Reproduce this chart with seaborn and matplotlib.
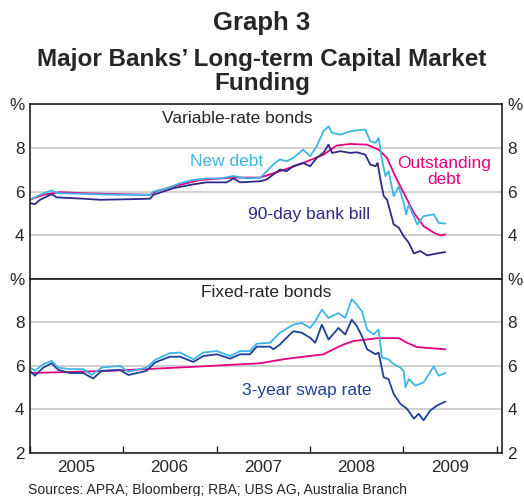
import pandas as pd
import numpy as np
import matplotlib.pyplot as plt
import matplotlib.dates as mdates
import seaborn as sns

# Datos (tasas en %)
# Bonos de tasa variable
vr_new_dates = ['2005-01-01', '2005-02-09', '2005-03-27', '2005-04-21', '2005-07-28', '2005-12-06',
                '2006-04-16', '2006-04-29', '2006-06-21', '2006-08-11', '2006-10-02', '2006-11-23',
                '2007-01-15', '2007-03-08', '2007-04-29', '2007-06-20', '2007-07-16', '2007-08-11',
                '2007-09-06', '2007-10-02', '2007-10-28', '2007-12-06', '2008-01-02', '2008-01-28',
                '2008-02-23', '2008-03-14', '2008-03-28', '2008-04-29', '2008-06-07', '2008-07-03',
                '2008-08-05', '2008-08-24', '2008-09-14', '2008-09-26', '2008-10-09', '2008-10-23',
                '2008-11-04', '2008-11-24', '2008-12-14', '2009-01-02', '2009-01-12', '2009-01-22',
                '2009-02-24', '2009-03-21', '2009-04-30', '2009-05-19', '2009-06-14']
vr_new = [5.62, 5.85, 6.05, 5.92, 5.89, 5.85, 5.85, 6.0, 6.15, 6.38, 6.53, 6.6,
          6.6, 6.71, 6.6, 6.63, 6.93, 7.24, 7.47, 7.39, 7.54, 7.92, 7.62, 8.08,
          8.76, 8.99, 8.69, 8.61, 8.76, 8.81, 8.84, 8.31, 8.23, 8.46, 7.47, 6.7,
          6.93, 5.79, 6.24, 5.48, 4.95, 5.4, 4.49, 4.87, 4.95, 4.56, 4.53]

vr_out_dates = ['2005-01-01', '2005-02-22', '2005-04-28', '2005-07-28', '2005-12-06', '2006-04-16',
                '2006-05-12', '2006-07-16', '2006-10-28', '2007-03-08', '2007-06-20', '2007-09-06',
                '2007-12-06', '2008-02-23', '2008-04-15', '2008-06-07', '2008-08-11', '2008-09-26',
                '2008-10-29', '2008-11-30', '2009-01-02', '2009-02-11', '2009-03-21', '2009-04-30',
                '2009-05-26', '2009-06-14']
vr_out = [5.62, 5.85, 5.97, 5.92, 5.88, 5.85, 6.02, 6.23, 6.53, 6.64, 6.64, 6.93,
          7.31, 7.69, 8.11, 8.18, 8.15, 7.92, 7.54, 6.7, 5.94, 5.02, 4.41, 4.11,
          3.98, 4.03]

bill_dates = ['2005-01-01', '2005-01-20', '2005-02-09', '2005-03-27', '2005-04-15', '2005-07-28',
              '2005-10-02', '2006-02-09', '2006-04-16', '2006-04-29', '2006-07-16', '2006-10-02',
              '2006-11-23', '2007-02-10', '2007-03-08', '2007-04-03', '2007-06-20', '2007-07-16',
              '2007-08-11', '2007-09-06', '2007-10-02', '2007-10-28', '2007-12-06', '2008-01-02',
              '2008-01-28', '2008-02-23', '2008-03-14', '2008-03-28', '2008-04-29', '2008-06-07',
              '2008-07-03', '2008-08-05', '2008-08-24', '2008-09-14', '2008-09-22', '2008-10-03',
              '2008-10-16', '2008-10-29', '2008-11-24', '2008-12-14', '2009-01-02', '2009-01-22',
              '2009-02-11', '2009-03-08', '2009-04-04', '2009-05-13', '2009-06-14']
bill = [5.47, 5.42, 5.62, 5.88, 5.73, 5.67, 5.62, 5.65, 5.67, 5.85, 6.15, 6.33,
        6.42, 6.42, 6.6, 6.42, 6.47, 6.55, 6.78, 7.01, 6.93, 7.16, 7.31, 7.16,
        7.54, 7.77, 8.15, 7.77, 7.85, 7.77, 7.8, 7.69, 7.24, 7.16, 7.31, 6.55,
        5.79, 5.63, 4.49, 4.34, 3.95, 3.65, 3.16, 3.27, 3.07, 3.16, 3.22]

# Bonos de tasa fija
fx_new_dates = ['2005-01-01', '2005-01-20', '2005-02-22', '2005-03-26', '2005-04-21', '2005-06-06',
                '2005-07-28', '2005-08-30', '2005-10-08', '2005-12-19', '2006-01-21', '2006-03-07',
                '2006-04-02', '2006-05-05', '2006-07-02', '2006-08-11', '2006-10-02', '2006-11-10',
                '2007-01-02', '2007-02-23', '2007-04-03', '2007-05-12', '2007-06-07', '2007-07-29',
                '2007-08-11', '2007-09-06', '2007-10-28', '2007-11-30', '2008-01-02', '2008-01-22',
                '2008-02-17', '2008-03-14', '2008-04-22', '2008-05-18', '2008-06-13', '2008-07-03',
                '2008-07-23', '2008-08-12', '2008-09-07', '2008-09-26', '2008-10-09', '2008-11-04',
                '2008-11-24', '2008-12-20', '2009-01-02', '2009-01-09', '2009-01-22', '2009-02-17',
                '2009-03-21', '2009-04-30', '2009-05-19', '2009-06-14']
fx_new = [5.92, 5.77, 6.08, 6.23, 5.92, 5.85, 5.85, 5.58, 5.92, 6.0, 5.73, 5.85,
          5.92, 6.27, 6.58, 6.61, 6.3, 6.61, 6.68, 6.45, 6.68, 6.68, 7.02, 7.06,
          7.21, 7.52, 7.89, 7.97, 7.74, 8.05, 8.58, 8.2, 8.42, 8.2, 9.06, 8.8,
          8.5, 7.67, 7.44, 7.67, 6.38, 6.3, 6.08, 5.92, 5.77, 5.02, 5.39, 5.09,
          5.24, 5.97, 5.55, 5.67]

fx_out_dates = ['2005-01-01', '2005-11-10', '2006-10-28', '2007-06-20', '2007-09-19', '2007-11-10',
                '2008-02-23', '2008-04-02', '2008-05-12', '2008-06-20', '2008-08-12', '2008-09-20',
                '2008-12-14', '2009-01-15', '2009-02-24', '2009-06-14']
fx_out = [5.67, 5.77, 5.97, 6.12, 6.3, 6.38, 6.53, 6.76, 6.98, 7.14, 7.21, 7.27,
          7.27, 7.06, 6.86, 6.76]

swap_dates = ['2005-01-01', '2005-01-20', '2005-02-22', '2005-03-26', '2005-04-21', '2005-06-06',
              '2005-07-28', '2005-09-05', '2005-10-08', '2005-12-19', '2006-01-21', '2006-03-07',
              '2006-04-02', '2006-05-05', '2006-07-02', '2006-08-11', '2006-10-02', '2006-11-10',
              '2007-01-02', '2007-02-23', '2007-04-03', '2007-05-12', '2007-06-07', '2007-07-29',
              '2007-08-11', '2007-09-06', '2007-10-02', '2007-10-28', '2007-11-30', '2008-01-02',
              '2008-01-22', '2008-02-17', '2008-03-14', '2008-04-22', '2008-05-18', '2008-06-13',
              '2008-07-03', '2008-07-23', '2008-08-12', '2008-09-14', '2008-09-26', '2008-10-16',
              '2008-11-04', '2008-11-24', '2008-12-20', '2009-01-15', '2009-02-11', '2009-03-02',
              '2009-03-21', '2009-04-16', '2009-05-13', '2009-06-14']
swap = [5.77, 5.55, 5.92, 6.12, 5.82, 5.67, 5.67, 5.42, 5.77, 5.82, 5.58, 5.7,
        5.77, 6.15, 6.42, 6.42, 6.18, 6.45, 6.53, 6.33, 6.53, 6.53, 6.88, 6.88,
        6.76, 6.98, 7.29, 7.59, 7.52, 7.29, 7.06, 7.89, 7.21, 7.74, 7.44, 8.12,
        7.82, 7.36, 6.76, 6.53, 6.61, 5.47, 5.39, 4.71, 4.26, 4.03, 3.58, 3.8,
        3.5, 3.95, 4.18, 4.36]

years = ['2005', '2006', '2007', '2008', '2009']

C_NEW = '#3db5e6'
C_OUT = '#e6007e'
C_BILL = '#2e2a86'
C_SWAP = '#203f97'

sns.set_style('white')
plt.rcParams['font.family'] = ['Liberation Sans', 'DejaVu Sans']

fig = plt.figure(figsize=(5.24, 4.96), dpi=100)
ax1 = fig.add_axes([0.0573, 0.4381, 0.9008, 0.3516])
ax2 = fig.add_axes([0.0573, 0.0867, 0.9008, 0.3514])

def serie(ax, fechas, valores, color):
    sns.lineplot(x=pd.to_datetime(fechas), y=valores, ax=ax, color=color, lw=1.3)

serie(ax1, vr_out_dates, vr_out, C_OUT)
serie(ax1, bill_dates, bill, C_BILL)
serie(ax1, vr_new_dates, vr_new, C_NEW)

serie(ax2, fx_out_dates, fx_out, C_OUT)
serie(ax2, swap_dates, swap, C_SWAP)
serie(ax2, fx_new_dates, fx_new, C_NEW)

for ax in (ax1, ax2):
    ax.set_xlim(pd.Timestamp('2005-01-01'), pd.Timestamp('2010-01-22'))
    ax.set_ylim(2, 10)
    ax.set_yticks([2, 4, 6, 8, 10])
    ax.grid(axis='y', color='#c8c8c8', lw=1.2)
    ax.grid(axis='x', visible=False)
    ax.set_xlabel('')
    ax.set_ylabel('')
    ax.tick_params(axis='y', length=0, labelsize=12.3, left=True, right=True,
                   labelleft=True, labelright=True, pad=4)
    for s in ax.spines.values():
        s.set_color('#222222')
        s.set_linewidth(1.2)

ax1.set_yticklabels(['', '4', '6', '8', '%'])
ax2.set_yticklabels(['2', '4', '6', '8', '%'])

ax1.tick_params(axis='x', length=0, labelbottom=False)
ax2.xaxis.set_major_locator(mdates.YearLocator())
ax2.xaxis.set_major_formatter(plt.NullFormatter())
ax2.set_xticks(pd.to_datetime([y + '-07-01' for y in years]), minor=True)
ax2.set_xticklabels(years, minor=True)
ax2.tick_params(axis='x', which='major', direction='in', length=5, width=1, color='#222222', bottom=True)
ax2.tick_params(axis='x', which='minor', length=0, labelsize=12.3, pad=5)

# Etiquetas de los paneles
ax1.text(0.439, 0.921, 'Variable-rate bonds', transform=ax1.transAxes, ha='center', va='center', fontsize=12.5)
ax1.text(0.417, 0.671, 'New debt', transform=ax1.transAxes, ha='center', va='center', fontsize=12.5, color=C_NEW)
ax1.text(0.878, 0.614, 'Outstanding\ndebt', transform=ax1.transAxes, ha='center', va='center', fontsize=12.5,
         color=C_OUT, linespacing=1.05)
ax1.text(0.591, 0.371, '90-day bank bill', transform=ax1.transAxes, ha='center', va='center', fontsize=12.5, color=C_BILL)
ax2.text(0.5, 0.918, 'Fixed-rate bonds', transform=ax2.transAxes, ha='center', va='center', fontsize=12.5)
ax2.text(0.587, 0.356, '3-year swap rate', transform=ax2.transAxes, ha='center', va='center', fontsize=12.5, color=C_SWAP)

fig.text(0.5, 0.953, 'Graph 3', ha='center', va='center', fontsize=18.5, fontweight='bold')
fig.text(0.5, 0.880, 'Major Banks\u2019 Long-term Capital Market', ha='center', va='center', fontsize=17.5, fontweight='bold')
fig.text(0.5, 0.831, 'Funding', ha='center', va='center', fontsize=17.5, fontweight='bold')
fig.text(0.053, 0.012, 'Sources: APRA; Bloomberg; RBA; UBS AG, Australia Branch', ha='left', va='center', fontsize=10.1)

fig.savefig('out.png', dpi=100)
